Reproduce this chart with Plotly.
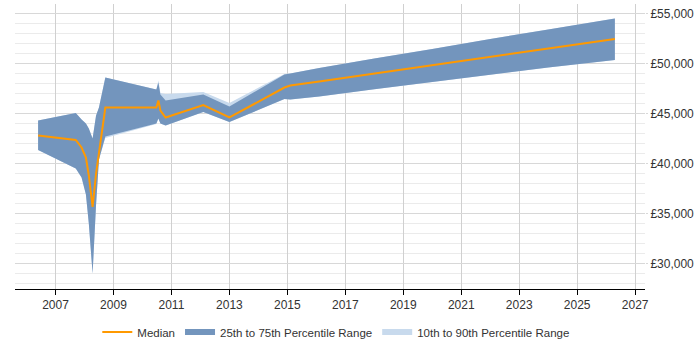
import plotly.graph_objects as go

years = [2006.4, 2007.7, 2007.9, 2008.05, 2008.15, 2008.28, 2008.4, 2008.5, 2008.72,
         2010.48, 2010.55, 2010.62, 2010.8, 2012.1, 2013.0, 2014.9, 2015.1, 2016.1,
         2018.0, 2020.0, 2022.0, 2024.0, 2026.3]
median = [42800, 42350, 41600, 40600, 38800, 35650, 39000, 41000, 45600,
          45600, 46300, 45300, 44600, 45850, 44600, 47600, 47800, 48200,
          49000, 49800, 50650, 51500, 52450]
p75 = [44300, 45050, 44400, 44000, 43500, 42500, 44800, 45600, 48600,
       47400, 48100, 46900, 46300, 46900, 45700, 48900, 49000, 49550,
       50500, 51450, 52450, 53400, 54500]
p25 = [41350, 39500, 38600, 36900, 34000, 29000, 35900, 40400, 42700,
       44000, 44500, 44000, 43800, 45150, 44150, 46450, 46400, 46700,
       47420, 48150, 48880, 49600, 50350]
p90 = [44300, 45050, 44400, 44000, 43500, 42500, 44800, 45600, 48600,
       47400, 48300, 47050, 46950, 47150, 46050, 48950, 49000, 49550,
       50500, 51450, 52450, 53400, 54500]
p10 = [41350, 39500, 38600, 36900, 34000, 29000, 35900, 40400, 42550,
       43950, 44500, 44000, 43800, 45150, 44150, 46450, 46400, 46700,
       47420, 48150, 48880, 49600, 50350]

tick_years = list(range(2007, 2028, 2))
tick_values = [30000, 35000, 40000, 45000, 50000, 55000]
tick_labels = ["£30,000", "£35,000", "£40,000", "£45,000", "£50,000", "£55,000"]

DARK = "rgb(115,149,189)"
LIGHT = "rgb(200,218,237)"
ORANGE = "rgb(255,153,0)"

fig = go.Figure()
fig.add_trace(go.Scatter(
    x=years + years[::-1], y=p90 + p10[::-1], fill="toself", mode="none",
    fillcolor=LIGHT, name="10th to 90th Percentile Range", legendrank=3,
    hoverinfo="skip"))
fig.add_trace(go.Scatter(
    x=years + years[::-1], y=p75 + p25[::-1], fill="toself", mode="none",
    fillcolor=DARK, name="25th to 75th Percentile Range", legendrank=2,
    hoverinfo="skip"))
fig.add_trace(go.Scatter(
    x=years, y=median, mode="lines", line=dict(color=ORANGE, width=2),
    name="Median", legendrank=1))

fig.update_layout(
    width=700, height=350,
    margin=dict(l=15, r=55, t=4, b=58),
    paper_bgcolor="white", plot_bgcolor="white",
    font=dict(family="Liberation Sans, Arial, sans-serif", size=12, color="#333"),
    showlegend=True,
    legend=dict(orientation="h", x=0.51, xanchor="center", y=-0.1, yanchor="top",
                font=dict(size=11.5, color="#333"), itemwidth=30,
                traceorder="normal"),
)
fig.update_xaxes(
    range=[2005.603, 2027.34], tickvals=tick_years, ticktext=[str(t) for t in tick_years],
    showgrid=True, gridcolor="#d0d0d0", gridwidth=1,
    showline=True, linecolor="black", linewidth=1,
    ticks="outside", ticklen=5, tickcolor="black",
    zeroline=False, tickfont=dict(size=12, color="#333"),
)
fig.update_yaxes(
    range=[27450, 55950], side="right", tickvals=tick_values, ticktext=tick_labels,
    showgrid=True, gridcolor="#d8d8d8", gridwidth=1,
    minor=dict(dtick=1000, tick0=0, showgrid=True, gridcolor="#ebebeb", gridwidth=1),
    showline=False, ticks="outside", ticklen=2, tickcolor="#d8d8d8",
    zeroline=False, tickfont=dict(size=12, color="#333"),
)

fig.write_html("out.html")
